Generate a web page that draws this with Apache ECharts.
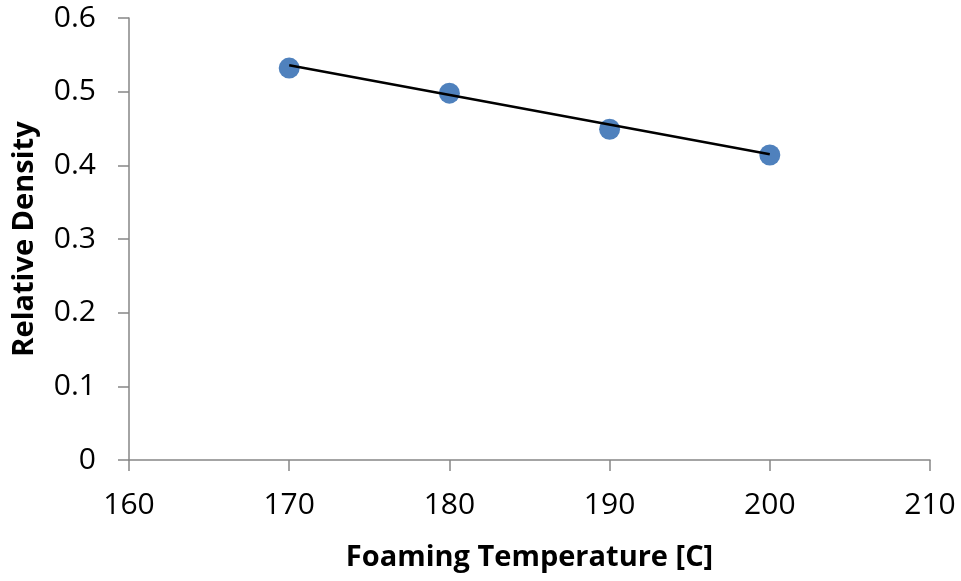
<!DOCTYPE html>
<html lang="en">
<head>
    <meta charset="UTF-8">
    <title>Relative Density vs Foaming Temperature</title>
    <style>
        html, body { margin: 0; padding: 0; background: #fff; }
        #main { width: 961px; height: 581px; }
    </style>
</head>
<body>
    <div id="main"></div>
    <script src="https://cdn.jsdelivr.net/npm/echarts@6/dist/echarts.min.js"></script>
    <script>
    // measured points
    var temps = [170, 180, 190, 200];
    var density = [0.532, 0.498, 0.449, 0.414];
    // trend line ends
    var trendX = [170, 200];
    var trendY = [0.536, 0.415];

    var xTicks = { min: 160, max: 210, step: 10 };
    var yTicks = { min: 0, max: 0.6, step: 0.1 };

    var chart = echarts.init(document.getElementById('main'), null, { renderer: 'canvas' });

    var axisColor = '#868686';
    var font = '"Open Sans", "Liberation Sans", sans-serif';

    var option = {
        animation: false,
        grid: { left: 129, right: 31, top: 18, bottom: 121, containLabel: false },
        xAxis: {
            type: 'value',
            min: xTicks.min, max: xTicks.max, interval: xTicks.step,
            name: 'Foaming Temperature [C]',
            nameLocation: 'middle',
            nameGap: 83,
            nameTextStyle: { fontFamily: font, fontWeight: 'bold', fontSize: 29, color: '#000' },
            axisLine: { lineStyle: { color: axisColor, width: 1.5 } },
            axisTick: { show: true, length: 11, lineStyle: { color: axisColor, width: 1.5 } },
            axisLabel: { margin: 30, fontFamily: font, fontSize: 30, color: '#000' },
            splitLine: { show: false }
        },
        yAxis: {
            type: 'value',
            min: yTicks.min, max: yTicks.max, interval: yTicks.step,
            name: 'Relative Density',
            nameLocation: 'middle',
            nameGap: 90,
            nameTextStyle: { fontFamily: font, fontWeight: 'bold', fontSize: 29, color: '#000' },
            axisLine: { show: true, lineStyle: { color: axisColor, width: 1.5 } },
            axisTick: { show: true, length: 11, lineStyle: { color: axisColor, width: 1.5 } },
            axisLabel: {
                margin: 33, fontFamily: font, fontSize: 30, color: '#000',
                formatter: function (v) { return v === 0 ? '0' : v.toFixed(1); }
            },
            splitLine: { show: false }
        },
        series: [
            {
                type: 'scatter',
                symbol: 'circle',
                symbolSize: 21,
                itemStyle: { color: '#4F81BD', opacity: 1 },
                data: temps.map(function (t, i) { return [t, density[i]]; }),
                z: 2
            },
            {
                type: 'line',
                showSymbol: false,
                symbol: 'none',
                lineStyle: { color: '#000', width: 2.5 },
                data: trendX.map(function (t, i) { return [t, trendY[i]]; }),
                z: 3
            }
        ]
    };

    chart.setOption(option);
    </script>
</body>
</html>
